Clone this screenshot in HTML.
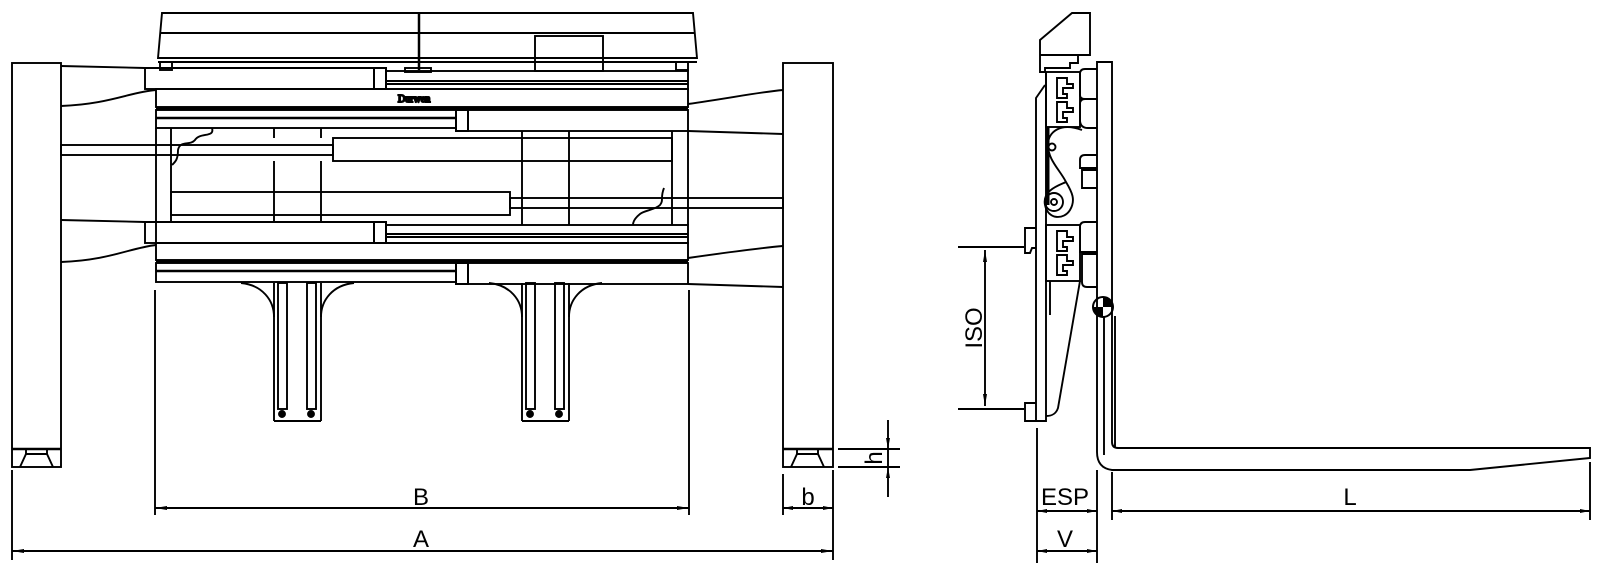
<!DOCTYPE html>
<html><head><meta charset="utf-8"><style>
html,body{margin:0;padding:0;background:#fff;}
svg{display:block;}
text{font-family:"Liberation Sans",sans-serif;font-size:24px;fill:#000;}
</style></head><body>
<svg width="1600" height="568" viewBox="0 0 1600 568" xmlns="http://www.w3.org/2000/svg">
<g fill="none" stroke="#000" stroke-width="1.9">
<!-- Left fork upright -->
<rect x="12" y="63" width="49" height="404"/>
<line x1="12" y1="449" x2="61" y2="449" stroke-width="2.5"/>
<polyline points="20,467 26,454 47,454 53,467"/>
<line x1="26" y1="454" x2="26" y2="449"/><line x1="47" y1="454" x2="47" y2="449"/>
<!-- Right fork upright -->
<rect x="783" y="63" width="50" height="404"/>
<line x1="783" y1="449" x2="833" y2="449" stroke-width="2.5"/>
<polyline points="791,467 797,454 818,454 824,467"/>
<line x1="797" y1="454" x2="797" y2="449"/><line x1="818" y1="454" x2="818" y2="449"/>

<!-- Top cover -->
<polygon points="162,13 693,13 697,58 158,58"/>
<line x1="160" y1="33" x2="695" y2="33"/>
<line x1="158" y1="62" x2="697" y2="62"/>
<line x1="419" y1="13" x2="419" y2="70" stroke-width="2.5"/>
<rect x="535" y="36" width="68" height="35"/>
<rect x="160" y="62" width="12" height="8"/><rect x="676" y="62" width="12" height="8"/>
<rect x="405" y="68" width="26" height="4"/>

<!-- arms from left fork -->
<path d="M61,66 L145,68 L374,68"/>
<path d="M61,106 C110,104 130,92 156,90"/>
<rect x="145" y="68" width="229" height="21"/>
<rect x="374" y="68" width="12" height="21" stroke-width="2"/>
<rect x="386" y="71" width="302" height="18"/>
<line x1="386" y1="81" x2="688" y2="81"/><line x1="386" y1="84" x2="688" y2="84"/>
<!-- bar 1 -->
<rect x="156" y="89" width="532" height="18"/>
<line x1="156" y1="108.5" x2="688" y2="108.5" stroke-width="3"/>
<text x="398" y="102" style="font-size:10px;font-family:'Liberation Serif',serif">Durwen</text>
<!-- bar 2 -->
<rect x="156" y="110" width="300" height="18"/>
<line x1="156" y1="118" x2="456" y2="118" stroke-width="2.5"/>
<rect x="456" y="110" width="12" height="21" stroke-width="2"/>
<rect x="468" y="110" width="220" height="21"/>
<path d="M688,104 C730,98 760,92 783,90"/>
<path d="M688,131 L783,134"/>
<!-- frame verticals -->
<line x1="156" y1="128" x2="156" y2="243"/><line x1="171" y1="128" x2="171" y2="222"/>
<line x1="672" y1="131" x2="672" y2="225"/><line x1="688" y1="131" x2="688" y2="225"/>
<line x1="274" y1="128" x2="274" y2="138"/><line x1="321" y1="128" x2="321" y2="138"/>
<line x1="274" y1="161" x2="274" y2="222"/><line x1="321" y1="161" x2="321" y2="222"/>
<line x1="522" y1="131" x2="522" y2="225"/><line x1="569" y1="131" x2="569" y2="225"/>
<!-- squiggles -->
<path d="M212,128 C215,138 200,132 195,140 C190,146 180,140 178,150 C178,160 175,162 172,165"/>
<path d="M664,188 C660,198 664,200 660,205 C655,210 645,210 640,214 C635,218 633,222 633,225"/>
<!-- cylinder 1 + rod -->
<rect x="61" y="145" width="272" height="10"/>
<rect x="333" y="138" width="339" height="23"/>
<!-- cylinder 2 + rod -->
<rect x="171" y="192" width="339" height="23"/>
<rect x="510" y="198" width="273" height="10"/>
<!-- lower arms -->
<path d="M61,220 L145,222 L374,222"/>
<path d="M61,262 C110,260 130,248 156,245"/>
<rect x="145" y="222" width="229" height="21"/>
<rect x="374" y="222" width="12" height="21" stroke-width="2"/>
<rect x="386" y="225" width="302" height="18"/>
<line x1="386" y1="234" x2="688" y2="234"/><line x1="386" y1="237" x2="688" y2="237"/>
<rect x="156" y="243" width="532" height="17"/>
<line x1="156" y1="261.5" x2="688" y2="261.5" stroke-width="3"/>
<rect x="156" y="263" width="300" height="19"/>
<line x1="156" y1="271" x2="456" y2="271" stroke-width="2.5"/>
<rect x="456" y="263" width="12" height="21" stroke-width="2"/>
<rect x="468" y="263" width="220" height="21"/>
<path d="M688,258 C730,252 760,248 783,246"/>
<path d="M688,284 L783,287"/>

<!-- fork brackets -->
<g id="br">
<path d="M241,283 C262,285 274,300 274,317"/>
<path d="M354,283 C333,285 321,300 321,317"/>
<line x1="274" y1="283" x2="274" y2="421"/><line x1="321" y1="283" x2="321" y2="421"/>
<line x1="274" y1="421" x2="321" y2="421" stroke-width="2"/>
<rect x="278" y="283" width="9" height="126"/>
<rect x="307" y="283" width="9" height="126"/>
<circle cx="282" cy="414" r="3" fill="#000"/><circle cx="311" cy="414" r="3" fill="#000"/>
</g>
<use href="#br" transform="translate(248,0)"/>

<!-- Dimensions front -->
<line x1="155" y1="290" x2="155" y2="515"/><line x1="689" y1="290" x2="689" y2="515"/>
<line x1="155" y1="508" x2="689" y2="508"/>
<line x1="12" y1="470" x2="12" y2="560"/><line x1="833" y1="470" x2="833" y2="560"/>
<line x1="12" y1="551" x2="833" y2="551"/>
<line x1="783" y1="474" x2="783" y2="515"/>
<line x1="783" y1="508" x2="833" y2="508"/>
<line x1="838" y1="449" x2="900" y2="449"/><line x1="838" y1="467" x2="900" y2="467"/>
<line x1="888" y1="420" x2="888" y2="497"/>
</g>
<g fill="#000">
<polygon points="155,508 167,506 167,510"/><polygon points="689,508 677,506 677,510"/>
<polygon points="12,551 24,549 24,553"/><polygon points="833,551 821,549 821,553"/>
<polygon points="783,508 793,506 793,510"/><polygon points="833,508 823,506 823,510"/>
<polygon points="888,449 886,438 890,438"/><polygon points="888,467 886,478 890,478"/>
</g>
<text x="421" y="505" text-anchor="middle">B</text>
<text x="421" y="547" text-anchor="middle">A</text>
<text x="808" y="505" text-anchor="middle">b</text>
<text transform="translate(882,458) rotate(-90)" text-anchor="middle">h</text>

<!-- Side view -->
<g fill="none" stroke="#000" stroke-width="1.9">
<polygon points="1040,40 1072,13 1090,13 1090,55 1078,55 1078,63 1070,63 1070,68 1045,68 1045,72 1040,72"/>
<line x1="1040" y1="55" x2="1078" y2="55"/>
<!-- plate -->
<path d="M1045,85 L1036,98 L1036,421 L1046,421 L1046,72"/>
<rect x="1046" y="72" width="34" height="55"/>
<rect x="1046" y="225" width="34" height="56"/>
<line x1="1048" y1="127" x2="1048" y2="205" stroke-width="3"/>
<line x1="1050" y1="281" x2="1050" y2="315"/>
<path d="M1080,281 L1058,408 C1056,414 1052,416 1046,416"/>
<!-- hooks -->
<path d="M1036,228 L1025,228 L1025,253 L1030,253 L1032,248 L1036,248"/>
<path d="M1036,403 L1025,403 L1025,421 L1036,421"/>
<!-- rail profiles -->
<g id="rp">
<path d="M1057,78 L1067,78 L1067,84 L1073,84 L1073,88 L1063,88 L1063,94 L1067,94 L1067,98 L1057,98 Z"/>
</g>
<use href="#rp" transform="translate(0,24)"/>
<use href="#rp" transform="translate(0,153)"/>
<use href="#rp" transform="translate(0,177)"/>
<!-- right rail blocks -->
<path d="M1097,69 L1085,69 Q1080,69 1080,74 L1080,95 Q1080,99 1085,99 L1097,99"/>
<path d="M1097,99 L1085,99 Q1080,99 1080,104 L1080,120 Q1080,128 1088,128 L1097,128"/>
<path d="M1097,155 L1085,155 Q1080,155 1080,160 L1080,168 L1097,168"/>
<path d="M1097,170 L1082,170 L1082,188 L1097,188"/>
<path d="M1097,222 L1085,222 Q1080,222 1080,227 L1080,252 L1097,252"/>
<path d="M1097,254 L1082,254 L1082,282 Q1082,287 1087,287 L1097,287"/>
<!-- link plates -->
<path d="M1082,130 C1060,122 1048,132 1048,145 C1048,160 1060,170 1066,182 C1072,192 1076,200 1070,210 C1064,220 1048,220 1045,205 C1042,190 1060,185 1066,182"/>
<circle cx="1052" cy="147" r="3.5"/>
<circle cx="1054" cy="202" r="9"/><circle cx="1054" cy="202" r="3"/>
<!-- fork -->
<path d="M1097,62 L1112,62 L1112,442 Q1112,448 1118,448 L1590,448 L1590,458 L1470,470 L1112,470 Q1097,468 1097,452 Z"/>
<line x1="1104" y1="316" x2="1104" y2="455"/>
<line x1="1115" y1="316" x2="1115" y2="448"/>
<!-- ISO dim -->
<line x1="958" y1="247" x2="1024" y2="247"/><line x1="958" y1="409" x2="1024" y2="409"/>
<line x1="985" y1="250" x2="985" y2="406"/>
<!-- bottom dims -->
<line x1="1037" y1="428" x2="1037" y2="563"/>
<line x1="1097" y1="470" x2="1097" y2="563"/>
<line x1="1112" y1="472" x2="1112" y2="520"/>
<line x1="1590" y1="462" x2="1590" y2="520"/>
<line x1="1037" y1="511" x2="1097" y2="511"/>
<line x1="1037" y1="551" x2="1097" y2="551"/>
<line x1="1112" y1="511" x2="1590" y2="511"/>
</g>
<g fill="#000">
<path d="M1103,297 A10,10 0 0 1 1113,307 L1103,307 Z"/>
<path d="M1103,317 A10,10 0 0 1 1093,307 L1103,307 Z"/>
<polygon points="985,250 983,262 987,262"/><polygon points="985,406 983,394 987,394"/>
<polygon points="1037,511 1047,509 1047,513"/><polygon points="1097,511 1087,509 1087,513"/>
<polygon points="1037,551 1047,549 1047,553"/><polygon points="1097,551 1087,549 1087,553"/>
<polygon points="1112,511 1122,509 1122,513"/><polygon points="1590,511 1580,509 1580,513"/>
</g>
<circle cx="1103" cy="307" r="10" fill="none" stroke="#000" stroke-width="2"/>
<text transform="translate(982,328) rotate(-90)" text-anchor="middle">ISO</text>
<text x="1065" y="505" text-anchor="middle">ESP</text>
<text x="1065" y="547" text-anchor="middle">V</text>
<text x="1350" y="505" text-anchor="middle">L</text>
</svg>
</body></html>
